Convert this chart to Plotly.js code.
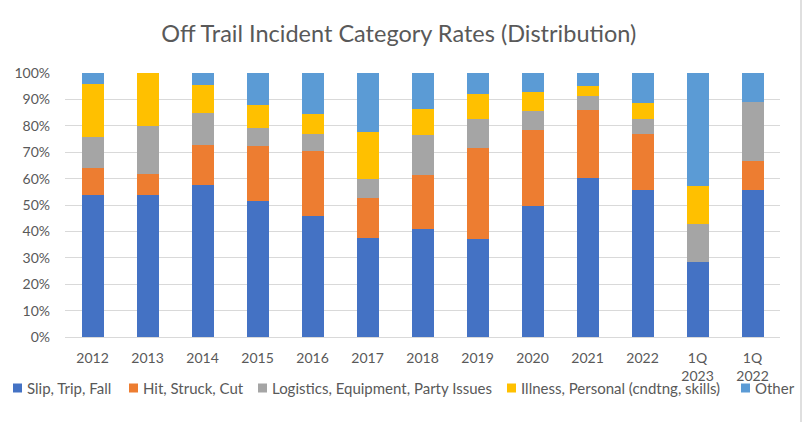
<!DOCTYPE html>
<html>
<head>
<meta charset="utf-8">
<script src="https://cdn.plot.ly/plotly-3.0.1.min.js"></script>
<style>html,body{margin:0;padding:0;background:#fff;}#chart{width:804px;height:422px;}</style>
</head>
<body>
<div id="chart"></div>
<script>
// ---- data ----
const categories = ['2012','2013','2014','2015','2016','2017','2018','2019','2020','2021','2022','1Q<br>2023','1Q<br>2022'];
const seriesNames = ['Slip, Trip, Fall','Hit, Struck, Cut','Logistics, Equipment, Party Issues','Illness, Personal (cndtng, skills)','Other'];
const slipTripFall = [0.538,0.538,0.574,0.515,0.460,0.375,0.409,0.372,0.497,0.602,0.557,0.286,0.556];
const hitStruckCut = [0.102,0.079,0.152,0.208,0.246,0.153,0.206,0.345,0.288,0.259,0.211,0.000,0.111];
const logistics    = [0.118,0.184,0.122,0.069,0.062,0.070,0.150,0.110,0.071,0.053,0.058,0.143,0.222];
const illness      = [0.202,0.199,0.105,0.087,0.078,0.177,0.097,0.095,0.072,0.035,0.059,0.143,0.000];
const other        = [0.040,0.000,0.047,0.121,0.154,0.225,0.138,0.078,0.072,0.051,0.115,0.428,0.111];
const seriesValues = [slipTripFall, hitStruckCut, logistics, illness, other];

// ---- styles ----
const colors = ['#4472C4','#ED7D31','#A5A5A5','#FFC000','#5B9BD5'];
const textColor = '#595959';
const fontFamily = 'Lato, "Liberation Sans", sans-serif';

const W = 804, H = 422;
const plotL = 65, plotR = 780, plotT = 73, plotB = 337;
const px2x = p => (p - plotL) / (plotR - plotL);
const py2y = p => (plotB - p) / (plotB - plotT);

const traces = seriesValues.map((vals, i) => ({
  type: 'bar',
  name: seriesNames[i],
  x: categories,
  y: vals,
  marker: {color: colors[i]},
  hoverinfo: 'skip'
}));

// custom legend (Excel-style compact)
const legendSquareX = [13, 129, 258, 507, 741];
const legendY = 388;
const shapes = [];
const annotations = [];
seriesNames.forEach((n, i) => {
  const sx = legendSquareX[i];
  shapes.push({type:'rect', xref:'paper', yref:'paper',
    x0: px2x(sx), x1: px2x(sx + 9), y0: py2y(legendY + 4.5), y1: py2y(legendY - 4.5),
    fillcolor: colors[i], line: {width: 0}});
  annotations.push({xref:'paper', yref:'paper', x: px2x(sx + 13), y: py2y(legendY),
    xanchor:'left', yanchor:'middle', showarrow:false, text: n,
    font: {family: fontFamily, size: 15, color: textColor}, borderpad: 0});
});
// chart frame right edge
shapes.push({type:'line', xref:'paper', yref:'paper',
  x0: px2x(801), x1: px2x(801), y0: py2y(0), y1: py2y(H),
  line: {color:'#BFBFBF', width:1}});

const layout = {
  width: W, height: H,
  barmode: 'stack',
  bargap: 0.6,
  showlegend: false,
  paper_bgcolor: '#fff', plot_bgcolor: '#fff',
  margin: {l: plotL, r: W - plotR, t: plotT, b: H - plotB, pad: 0},
  font: {family: fontFamily, color: textColor, size: 14},
  title: {text: 'Off Trail Incident Category Rates (Distribution)', xref:'container', yref:'container',
    x: 0.496, y: 1 - 34/H, xanchor:'center', yanchor:'middle',
    font: {family: fontFamily, size: 23.5, color: textColor}},
  xaxis: {type:'category', showgrid:false, zeroline:false, showline:true, linecolor:'#D9D9D9', linewidth:1,
    ticks:'', ticklabelstandoff: 8, tickfont: {size: 14, color: textColor}, fixedrange:true},
  yaxis: {range:[0,1], dtick:0.1, tickformat:'.0%', showgrid:true, gridcolor:'#D9D9D9', gridwidth:1,
    zeroline:false, showline:false, ticks:'', ticklabelstandoff: 14,
    tickfont: {size: 14, color: textColor}, fixedrange:true},
  shapes: shapes,
  annotations: annotations
};

Plotly.newPlot('chart', traces, layout, {displayModeBar:false, staticPlot:true});
</script>
</body>
</html>
